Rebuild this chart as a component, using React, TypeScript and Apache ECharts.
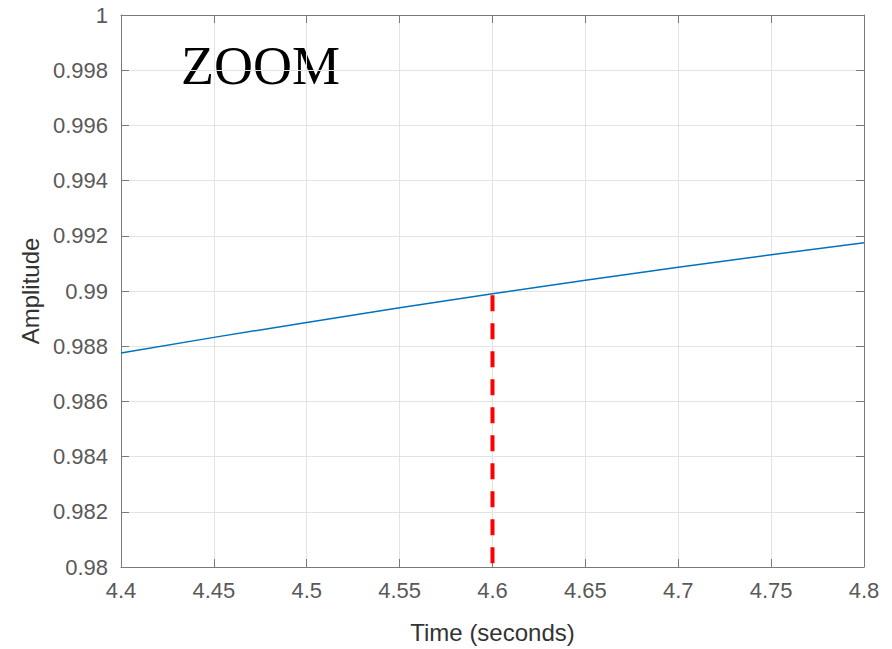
import React, { useEffect, useRef } from "react";
import * as echarts from "echarts";

const timeValues = [4.4, 4.45, 4.5, 4.55, 4.6, 4.65, 4.7, 4.75, 4.8];
const amplitudeValues = [0.98775, 0.98832, 0.98886, 0.98939, 0.9899, 0.99039, 0.99086, 0.99131, 0.99175];
const markerTime = 4.6;
const markerTop = 0.98985;
const markerBottom = 0.98;
const xTicks = { min: 4.4, max: 4.8, interval: 0.05 };
const yTicks = { min: 0.98, max: 1, interval: 0.002 };
const titleText = "ZOOM";
const xName = "Time (seconds)";
const yName = "Amplitude";

const AXIS_COLOR = "#7a7a7a";
const LABEL_COLOR = "#595959";
const FONT = "Liberation Sans, Arial, Helvetica, sans-serif";

export default function App() {
  const ref = useRef<HTMLDivElement>(null);
  useEffect(() => {
    if (!ref.current) return;
    const chart = echarts.init(ref.current, null, { renderer: "svg" });
    const baseAxisLine = { show: true, lineStyle: { color: AXIS_COLOR, width: 1 } };
    const baseTick = { show: true, inside: true, length: 8, lineStyle: { color: AXIS_COLOR } };
    chart.setOption({
      animation: false,
      backgroundColor: "#ffffff",
      grid: { left: 121, top: 15, right: 28, bottom: 81, containLabel: false },
      graphic: [
        {
          type: "text",
          left: 181,
          top: 39,
          style: { text: titleText, font: "54px 'Liberation Serif', 'Times New Roman', serif", fill: "#000000" },
        },
      ],
      xAxis: [
        {
          type: "value",
          min: xTicks.min,
          max: xTicks.max,
          interval: xTicks.interval,
          position: "bottom",
          name: xName,
          nameLocation: "middle",
          nameGap: 53,
          nameTextStyle: { color: "#333333", fontSize: 24, fontFamily: FONT },
          axisLine: baseAxisLine,
          axisTick: baseTick,
          axisLabel: {
            color: LABEL_COLOR,
            fontSize: 22,
            fontFamily: FONT,
            margin: 12,
            formatter: (v: number) => String(+v.toFixed(2)),
          },
          splitLine: { show: true, lineStyle: { color: "#e3e3e3", width: 1 } },
        },
        {
          type: "value",
          min: xTicks.min,
          max: xTicks.max,
          interval: xTicks.interval,
          position: "top",
          axisLine: baseAxisLine,
          axisTick: baseTick,
          axisLabel: { show: false },
          splitLine: { show: false },
        },
      ],
      yAxis: [
        {
          type: "value",
          min: yTicks.min,
          max: yTicks.max,
          interval: yTicks.interval,
          position: "left",
          name: yName,
          nameLocation: "middle",
          nameGap: 71,
          nameRotate: 90,
          nameTextStyle: { color: "#333333", fontSize: 24, fontFamily: FONT },
          axisLine: baseAxisLine,
          axisTick: baseTick,
          axisLabel: {
            color: LABEL_COLOR,
            fontSize: 22,
            fontFamily: FONT,
            margin: 13,
            formatter: (v: number) => String(+v.toFixed(3)),
          },
          splitLine: { show: true, lineStyle: { color: "#e3e3e3", width: 1 } },
        },
        {
          type: "value",
          min: yTicks.min,
          max: yTicks.max,
          interval: yTicks.interval,
          position: "right",
          axisLine: baseAxisLine,
          axisTick: baseTick,
          axisLabel: { show: false },
          splitLine: { show: false },
        },
      ],
      series: [
        {
          type: "line",
          data: timeValues.map((t, i) => [t, amplitudeValues[i]]),
          symbol: "none",
          lineStyle: { color: "#0072BD", width: 1.5 },
          silent: true,
        },
        {
          type: "line",
          data: [
            [markerTime, markerTop],
            [markerTime, markerBottom],
          ],
          symbol: "none",
          lineStyle: { color: "#ff0000", width: 4, type: [16, 12] },
          silent: true,
        },
      ],
    });
    return () => chart.dispose();
  }, []);
  return <div ref={ref} style={{ width: 892, height: 649, position: "absolute", left: 0, top: 0 }} />;
}
